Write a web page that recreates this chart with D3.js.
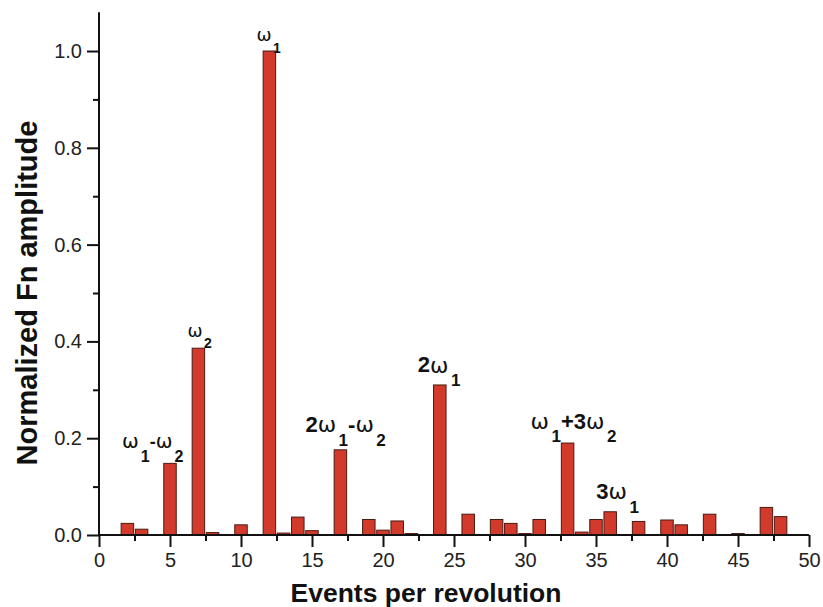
<!DOCTYPE html>
<html><head><meta charset="utf-8">
<script src="https://cdn.jsdelivr.net/npm/d3@7/dist/d3.min.js"></script>
<style>body{margin:0;background:#fff}svg{display:block}</style>
</head><body><svg id="c" width="823" height="607"></svg>
<script>
// ---- data ----
const events = [2,3,5,7,8,10,12,13,14,15,17,19,20,21,22,24,26,28,29,30,31,33,34,35,36,38,40,41,43,45,47,48];
const amplitudes = [0.024,0.012,0.148,0.386,0.005,0.021,1.0,0.004,0.037,0.009,0.176,0.032,0.010,0.029,0.003,0.310,0.043,0.032,0.024,0.003,0.032,0.190,0.006,0.032,0.048,0.028,0.031,0.021,0.043,0.003,0.057,0.038];
const xTicks = [0,5,10,15,20,25,30,35,40,45,50];
const xMinorTicks = [2.5,7.5,12.5,17.5,22.5,27.5,32.5,37.5,42.5,47.5];
const yTicks = [0,0.2,0.4,0.6,0.8,1.0];
const yMinorTicks = [0.1,0.3,0.5,0.7,0.9];
const xTitle = "Events per revolution";
const yTitle = "Normalized Fn amplitude";
// annotation text tokens: n = bold number/operator, w = omega, s = subscript
const labelBars = [12,7,5,24,17,33,36];
const labelTokens = [
  [["w","ω"],["s","1"]],
  [["w","ω"],["s","2"]],
  [["w","ω"],["s","1"],["n","-"],["w","ω"],["s","2"]],
  [["n","2"],["w","ω"],["s","1"]],
  [["n","2"],["w","ω"],["s","1"],["n","-"],["w","ω"],["s","2"]],
  [["w","ω"],["s","1"],["n","+3"],["w","ω"],["s","2"]],
  [["n","3"],["w","ω"],["s","1"]]
];

// ---- layout ----
const svg = d3.select("#c");
const x = d3.scaleLinear().domain([0,50]).range([99,809]);
const y = d3.scaleLinear().domain([0,1.08]).range([535,12.3]);
const barW = x(0.88) - x(0);
const font = "'Liberation Sans', Arial, Helvetica, sans-serif";
const omegaFont = "'DejaVu Sans', sans-serif";

// bars
svg.append("g").selectAll("rect").data(events.map((e,i)=>({e, v:amplitudes[i]})))
  .join("rect")
  .attr("x", d => x(d.e) - barW/2)
  .attr("y", d => y(d.v))
  .attr("width", barW)
  .attr("height", d => Math.max(1.2, y(0) - y(d.v)))
  .attr("fill", "#d23a2c")
  .attr("stroke", "#4a1a12")
  .attr("stroke-width", 1);

// x axis
const gx = svg.append("g").attr("transform", `translate(0,${y(0)})`);
gx.call(d3.axisBottom(x).tickValues(xTicks).tickSize(12).tickPadding(6).tickFormat(d3.format("d")));
gx.append("g").call(d3.axisBottom(x).tickValues(xMinorTicks).tickSize(6).tickFormat(""))
  .select(".domain").remove();
// y axis
const gy = svg.append("g").attr("transform", `translate(${x(0)},0)`);
gy.call(d3.axisLeft(y).tickValues(yTicks).tickSize(12).tickPadding(5).tickFormat(d3.format(".1f")));
gy.append("g").call(d3.axisLeft(y).tickValues(yMinorTicks).tickSize(6).tickFormat(""))
  .select(".domain").remove();
svg.selectAll(".domain").attr("stroke","#111").attr("stroke-width",2);
gx.select(".domain").attr("d", `M${x(0)},0H${x(50)}`);
gy.select(".domain").attr("d", `M0,${y(0)}V${y(1.08)}`);
svg.selectAll(".tick line").attr("stroke","#111").attr("stroke-width",2);
svg.selectAll(".tick text").attr("font-family", font).attr("font-size", 20).attr("fill","#222");

// axis titles
svg.append("text").attr("x", 426).attr("y", 602).attr("text-anchor","middle")
  .attr("font-family", font).attr("font-weight","bold").attr("font-size", 26.5).attr("fill","#111")
  .text(xTitle);
svg.append("text").attr("transform", `translate(37,293) rotate(-90)`).attr("text-anchor","middle")
  .attr("font-family", font).attr("font-weight","bold").attr("font-size", 29).attr("fill","#111")
  .text(yTitle);

// annotations (offsets relative to the labelled bar)
const labelLayout = [
  {dx:-13,   dy:-10, n:20, w:18, s:14, wShift:0, sShift:12, gap:1.5},
  {dx:-11,   dy:-11, n:20, w:18, s:14, wShift:0, sShift:11, gap:1.5},
  {dx:-48,   dy:-15, n:18, w:20, s:16, wShift:0, sShift:14, gap:2},
  {dx:-22,   dy:-13, n:22, w:22, s:17, wShift:1, sShift:14, gap:2.5},
  {dx:-35,   dy:-18, n:22, w:22, s:17, wShift:0, sShift:14, gap:2.5},
  {dx:-37,   dy:-14, n:22, w:22, s:17, wShift:0, sShift:13, gap:2.5},
  {dx:-14,   dy:-13, n:22, w:22, s:17, wShift:0, sShift:14, gap:2.5}
];
labelBars.forEach((b, i) => {
  const L = labelLayout[i];
  const v = amplitudes[events.indexOf(b)];
  const bx = x(b) + L.dx, by = y(v) + L.dy;
  const t = svg.append("text").attr("x", bx).attr("y", by).attr("font-family", font).attr("fill","#111");
  let cur = 0;
  labelTokens[i].forEach(([k, str]) => {
    const target = k === "s" ? L.sShift : (k === "w" ? L.wShift : 0);
    const ts = t.append("tspan").attr("dy", target - cur).text(str);
    cur = target;
    if (k === "w") ts.attr("font-size", L.w).attr("font-weight","normal").attr("font-family", omegaFont);
    else if (k === "s") ts.attr("font-size", L.s).attr("font-weight","bold").attr("dx", L.gap);
    else ts.attr("font-size", L.n).attr("font-weight","bold");
  });
});
</script></body></html>
